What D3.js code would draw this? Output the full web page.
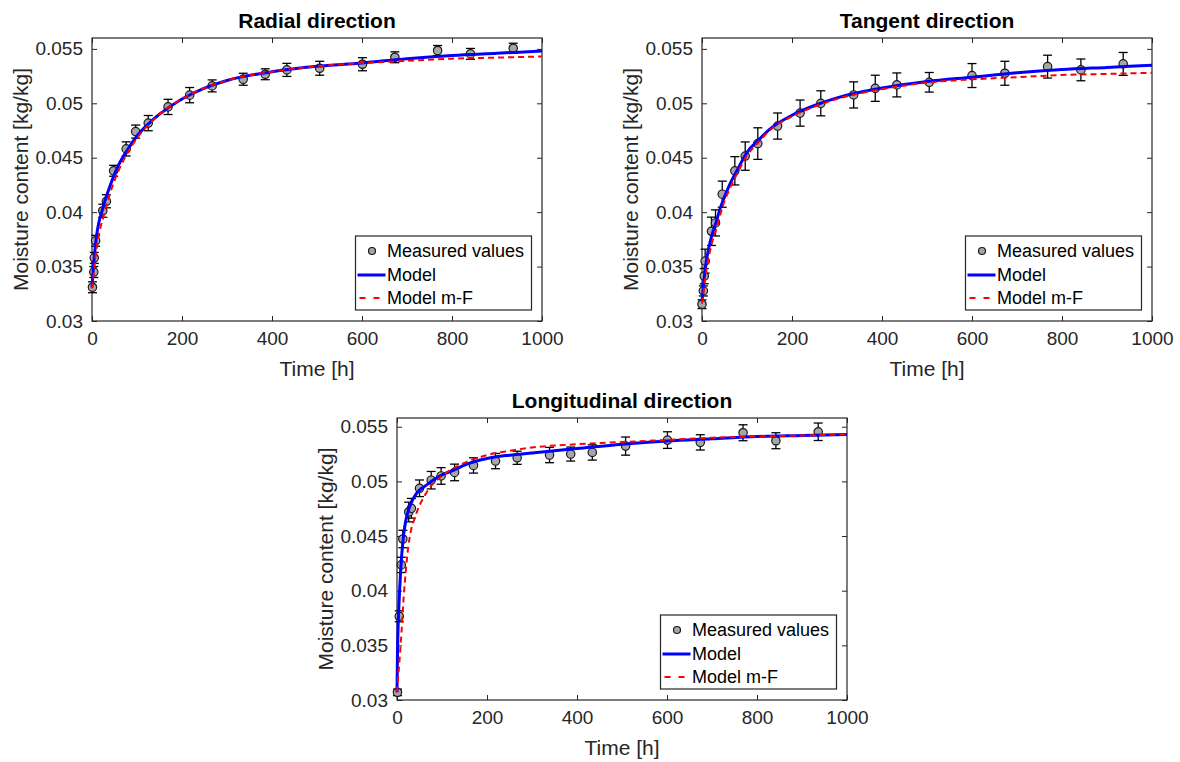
<!DOCTYPE html>
<html>
<head>
<meta charset="utf-8">
<script src="https://cdn.jsdelivr.net/npm/d3@7"></script>
<style>
  html, body { margin: 0; padding: 0; background: #ffffff; }
  svg { display: block; }
</style>
</head>
<body>
<svg id="chart" width="1180" height="762"></svg>
<script>
// ---------- data ----------
const xTicks = [0, 200, 400, 600, 800, 1000];
const yTicks = [0.03, 0.035, 0.04, 0.045, 0.05, 0.055];
const yTickLabels = ["0.03", "0.035", "0.04", "0.045", "0.05", "0.055"];
const xLabel = "Time [h]";
const yLabel = "Moisture content [kg/kg]";
const panelTitles = ["Radial direction", "Tangent direction", "Longitudinal direction"];
const legendLabels = ["Measured values", "Model", "Model m-F"];

// measured values (time [h], moisture [kg/kg], error bar half-height)
const radialTime = [1, 4, 5, 8, 24, 32, 48, 76, 97, 125, 169, 217, 267, 336, 385, 433, 506, 601, 673, 768, 841, 936];
const radialMeasured = [0.0331, 0.03450, 0.0358, 0.03737, 0.04013, 0.04100, 0.04380, 0.04581, 0.04740, 0.04818, 0.04967, 0.05075, 0.05160, 0.05221, 0.05267, 0.05307, 0.05322, 0.05359, 0.05423, 0.05485, 0.05454, 0.05506];
const radialError = [0.0005, 0.0005, 0.0005, 0.0005, 0.0006, 0.0006, 0.0005, 0.00065, 0.0006, 0.0007, 0.0007, 0.0007, 0.00055, 0.00055, 0.0005, 0.0006, 0.00064, 0.0006, 0.0005, 0.00046, 0.0005, 0.00046];

const tangentTime = [0, 3, 5, 7, 21, 30, 45, 73, 96, 124, 168, 218, 264, 337, 385, 433, 505, 600, 673, 768, 842, 936];
const tangentMeasured = [0.03154, 0.03276, 0.03412, 0.03550, 0.03824, 0.03901, 0.04165, 0.04380, 0.04515, 0.04630, 0.04791, 0.04910, 0.05000, 0.05077, 0.05138, 0.05169, 0.05193, 0.05255, 0.05276, 0.05337, 0.05307, 0.05362];
const tangentError = [0.0004, 0.00046, 0.0007, 0.0011, 0.0013, 0.0012, 0.0012, 0.0013, 0.0013, 0.00145, 0.0012, 0.0012, 0.00115, 0.0012, 0.0012, 0.0011, 0.0009, 0.0011, 0.0011, 0.00105, 0.001, 0.00105];

const longTime = [1, 5, 9.6, 13, 26, 32, 50, 76, 98, 128, 170, 219, 267, 339, 386, 434, 508, 601, 674, 769, 842, 936];
const longMeasured = [0.0307, 0.03766, 0.04236, 0.04473, 0.04720, 0.04754, 0.04937, 0.05011, 0.05050, 0.05082, 0.05146, 0.05186, 0.05216, 0.05241, 0.05250, 0.05265, 0.05323, 0.05378, 0.05357, 0.05445, 0.05372, 0.05454];
const longError = [0.0003, 0.0005, 0.0007, 0.0008, 0.0009, 0.0009, 0.00076, 0.0008, 0.00076, 0.00076, 0.0007, 0.0007, 0.0006, 0.0007, 0.00064, 0.0007, 0.00083, 0.00076, 0.0007, 0.00073, 0.00073, 0.0008];

// model curves at these times
const modelTime = [0, 1, 2, 5, 8, 10, 15, 20, 25, 30, 40, 50, 60, 80, 100, 125, 150, 200, 250, 300, 400, 500, 600, 700, 800, 900, 1000];
const radialModel   = [0.0331, 0.0337, 0.0343, 0.0358, 0.0371, 0.0378, 0.0390, 0.0398, 0.0405, 0.0412, 0.0424, 0.0435, 0.0444, 0.0458, 0.0470, 0.0481, 0.0490, 0.0504, 0.0514, 0.0521, 0.0529, 0.0534, 0.0537, 0.0541, 0.0544, 0.0546, 0.0548];
const radialModelMF = [0.0330, 0.0333, 0.0337, 0.0348, 0.0360, 0.0366, 0.0378, 0.0388, 0.0395, 0.0403, 0.0417, 0.0429, 0.0439, 0.0455, 0.0468, 0.0480, 0.0490, 0.0504, 0.0514, 0.0521, 0.0529, 0.0534, 0.0537, 0.0539, 0.0541, 0.0542, 0.0543];
const tangentModel   = [0.0318, 0.0323, 0.0327, 0.0340, 0.0350, 0.0356, 0.0367, 0.0376, 0.0383, 0.0389, 0.0403, 0.0414, 0.0424, 0.0440, 0.0455, 0.0466, 0.0476, 0.0489, 0.0498, 0.0505, 0.0514, 0.0520, 0.0524, 0.0528, 0.0531, 0.0533, 0.0535];
const tangentModelMF = [0.0316, 0.0319, 0.0322, 0.0332, 0.0341, 0.0347, 0.0359, 0.0368, 0.0376, 0.0382, 0.0397, 0.0410, 0.0420, 0.0437, 0.0452, 0.0464, 0.0475, 0.0488, 0.0497, 0.0504, 0.0513, 0.0519, 0.0522, 0.0524, 0.0526, 0.0527, 0.0528];
const longModel   = [0.0307, 0.0340, 0.0360, 0.0393, 0.0417, 0.0430, 0.0452, 0.0465, 0.0473, 0.0479, 0.0487, 0.0492, 0.0495, 0.0501, 0.0506, 0.0510, 0.0515, 0.0521, 0.0524, 0.0526, 0.0530, 0.0534, 0.0537, 0.0539, 0.0541, 0.0542, 0.0543];
const longModelMF = [0.0307, 0.0312, 0.0318, 0.0333, 0.0350, 0.0362, 0.0395, 0.0420, 0.0440, 0.0453, 0.0467, 0.0478, 0.0486, 0.0498, 0.0505, 0.0512, 0.0517, 0.0524, 0.0528, 0.0531, 0.0534, 0.0536, 0.0538, 0.0540, 0.0541, 0.0542, 0.0543];

// ---------- layout ----------
const panels = [
  { title: panelTitles[0], left: 92,  top: 38,  w: 450, h: 283, yMax: 0.056,  t: radialTime,  m: radialMeasured,  e: radialError,  model: radialModel,  mf: radialModelMF },
  { title: panelTitles[1], left: 702, top: 38,  w: 450, h: 283, yMax: 0.056,  t: tangentTime, m: tangentMeasured, e: tangentError, model: tangentModel, mf: tangentModelMF },
  { title: panelTitles[2], left: 397, top: 418, w: 450, h: 282, yMax: 0.0558, t: longTime,    m: longMeasured,    e: longError,    model: longModel,    mf: longModelMF }
];

const FONT = "'Liberation Sans', Arial, Helvetica, sans-serif";
const AXC = "#262626";
const svg = d3.select("#chart");

panels.forEach(p => {
  const g = svg.append("g").attr("transform", `translate(${p.left},${p.top})`);
  const x = d3.scaleLinear().domain([0, 1000]).range([0, p.w]);
  const y = d3.scaleLinear().domain([0.03, p.yMax]).range([p.h, 0]);

  // axes with inward ticks on all four sides
  const ax = (sel) => { sel.select(".domain").remove(); sel.selectAll("line").attr("stroke", AXC).attr("stroke-width", 1); };
  g.append("g").attr("transform", `translate(0,${p.h})`)
    .call(d3.axisBottom(x).tickValues(xTicks).tickFormat(d3.format("d")).tickSize(-5).tickPadding(11))
    .call(ax)
    .selectAll("text").attr("font-family", FONT).attr("font-size", 19).attr("fill", AXC).attr("dy", "0.71em");
  g.append("g")
    .call(d3.axisTop(x).tickValues(xTicks).tickFormat("").tickSize(-5)).call(ax);
  g.append("g")
    .call(d3.axisLeft(y).tickValues(yTicks).tickFormat((d, i) => yTickLabels[i]).tickSize(-5).tickPadding(9))
    .call(ax)
    .selectAll("text").attr("font-family", FONT).attr("font-size", 19).attr("fill", AXC);
  g.append("g").attr("transform", `translate(${p.w},0)`)
    .call(d3.axisRight(y).tickValues(yTicks).tickFormat("").tickSize(-5)).call(ax);

  // frame
  g.append("rect").attr("x", 0).attr("y", 0).attr("width", p.w).attr("height", p.h)
    .attr("fill", "none").attr("stroke", AXC).attr("stroke-width", 1.2);

  // labels
  g.append("text").attr("x", p.w / 2).attr("y", p.h + 55).attr("text-anchor", "middle")
    .attr("font-family", FONT).attr("font-size", 21).attr("fill", AXC).text(xLabel);
  g.append("text").attr("transform", `translate(-64,${p.h / 2}) rotate(-90)`).attr("text-anchor", "middle")
    .attr("font-family", FONT).attr("font-size", 21).attr("fill", AXC).text(yLabel);
  g.append("text").attr("x", p.w / 2).attr("y", -10).attr("text-anchor", "middle")
    .attr("font-family", FONT).attr("font-size", 21).attr("font-weight", "bold").attr("fill", "#000").text(p.title);

  // measured values with error bars
  const pts = p.t.map((t, i) => ({ t, v: p.m[i], e: p.e[i] }));
  const eb = g.append("g").attr("stroke", "#000").attr("stroke-width", 1.3).attr("fill", "none");
  pts.forEach(d => {
    const cx = x(d.t), y1 = y(d.v - d.e), y2 = y(d.v + d.e);
    eb.append("line").attr("x1", cx).attr("x2", cx).attr("y1", y1).attr("y2", y2);
    eb.append("line").attr("x1", cx - 4.5).attr("x2", cx + 4.5).attr("y1", y1).attr("y2", y1);
    eb.append("line").attr("x1", cx - 4.5).attr("x2", cx + 4.5).attr("y1", y2).attr("y2", y2);
  });
  g.append("g").selectAll("circle").data(pts).join("circle")
    .attr("cx", d => x(d.t)).attr("cy", d => y(d.v)).attr("r", 4.2)
    .attr("fill", "#a6a6a6").attr("stroke", "#1a1a1a").attr("stroke-width", 1.2);

  // model curves
  const line = d3.line().x(d => x(d[0])).y(d => y(d[1])).curve(d3.curveMonotoneX);
  g.append("path").datum(modelTime.map((t, i) => [t, p.model[i]]))
    .attr("d", line).attr("fill", "none").attr("stroke", "#0000ff").attr("stroke-width", 3);
  g.append("path").datum(modelTime.map((t, i) => [t, p.mf[i]]))
    .attr("d", line).attr("fill", "none").attr("stroke", "#ff0000").attr("stroke-width", 2)
    .attr("stroke-dasharray", "6,4");

  // legend
  const lw = 176, lh = 74;
  const lg = g.append("g").attr("transform", `translate(${p.w - 10.5 - lw},${p.h - 11 - lh})`);
  lg.append("rect").attr("width", lw).attr("height", lh).attr("fill", "#fff").attr("stroke", AXC).attr("stroke-width", 1.2);
  const rows = [15, 39, 62];
  lg.append("circle").attr("cx", 16.5).attr("cy", rows[0]).attr("r", 3.5)
    .attr("fill", "#a6a6a6").attr("stroke", "#1a1a1a").attr("stroke-width", 1.2);
  lg.append("line").attr("x1", 2).attr("x2", 30).attr("y1", rows[1]).attr("y2", rows[1])
    .attr("stroke", "#0000ff").attr("stroke-width", 3);
  lg.append("line").attr("x1", 2).attr("x2", 30).attr("y1", rows[2]).attr("y2", rows[2])
    .attr("stroke", "#ff0000").attr("stroke-width", 2).attr("stroke-dasharray", "6,8").attr("stroke-dashoffset", -2);
  legendLabels.forEach((s, i) => {
    lg.append("text").attr("x", 31.5).attr("y", rows[i]).attr("dy", "0.35em")
      .attr("font-family", FONT).attr("font-size", 18).attr("fill", "#000").text(s);
  });
});
</script>
</body>
</html>
